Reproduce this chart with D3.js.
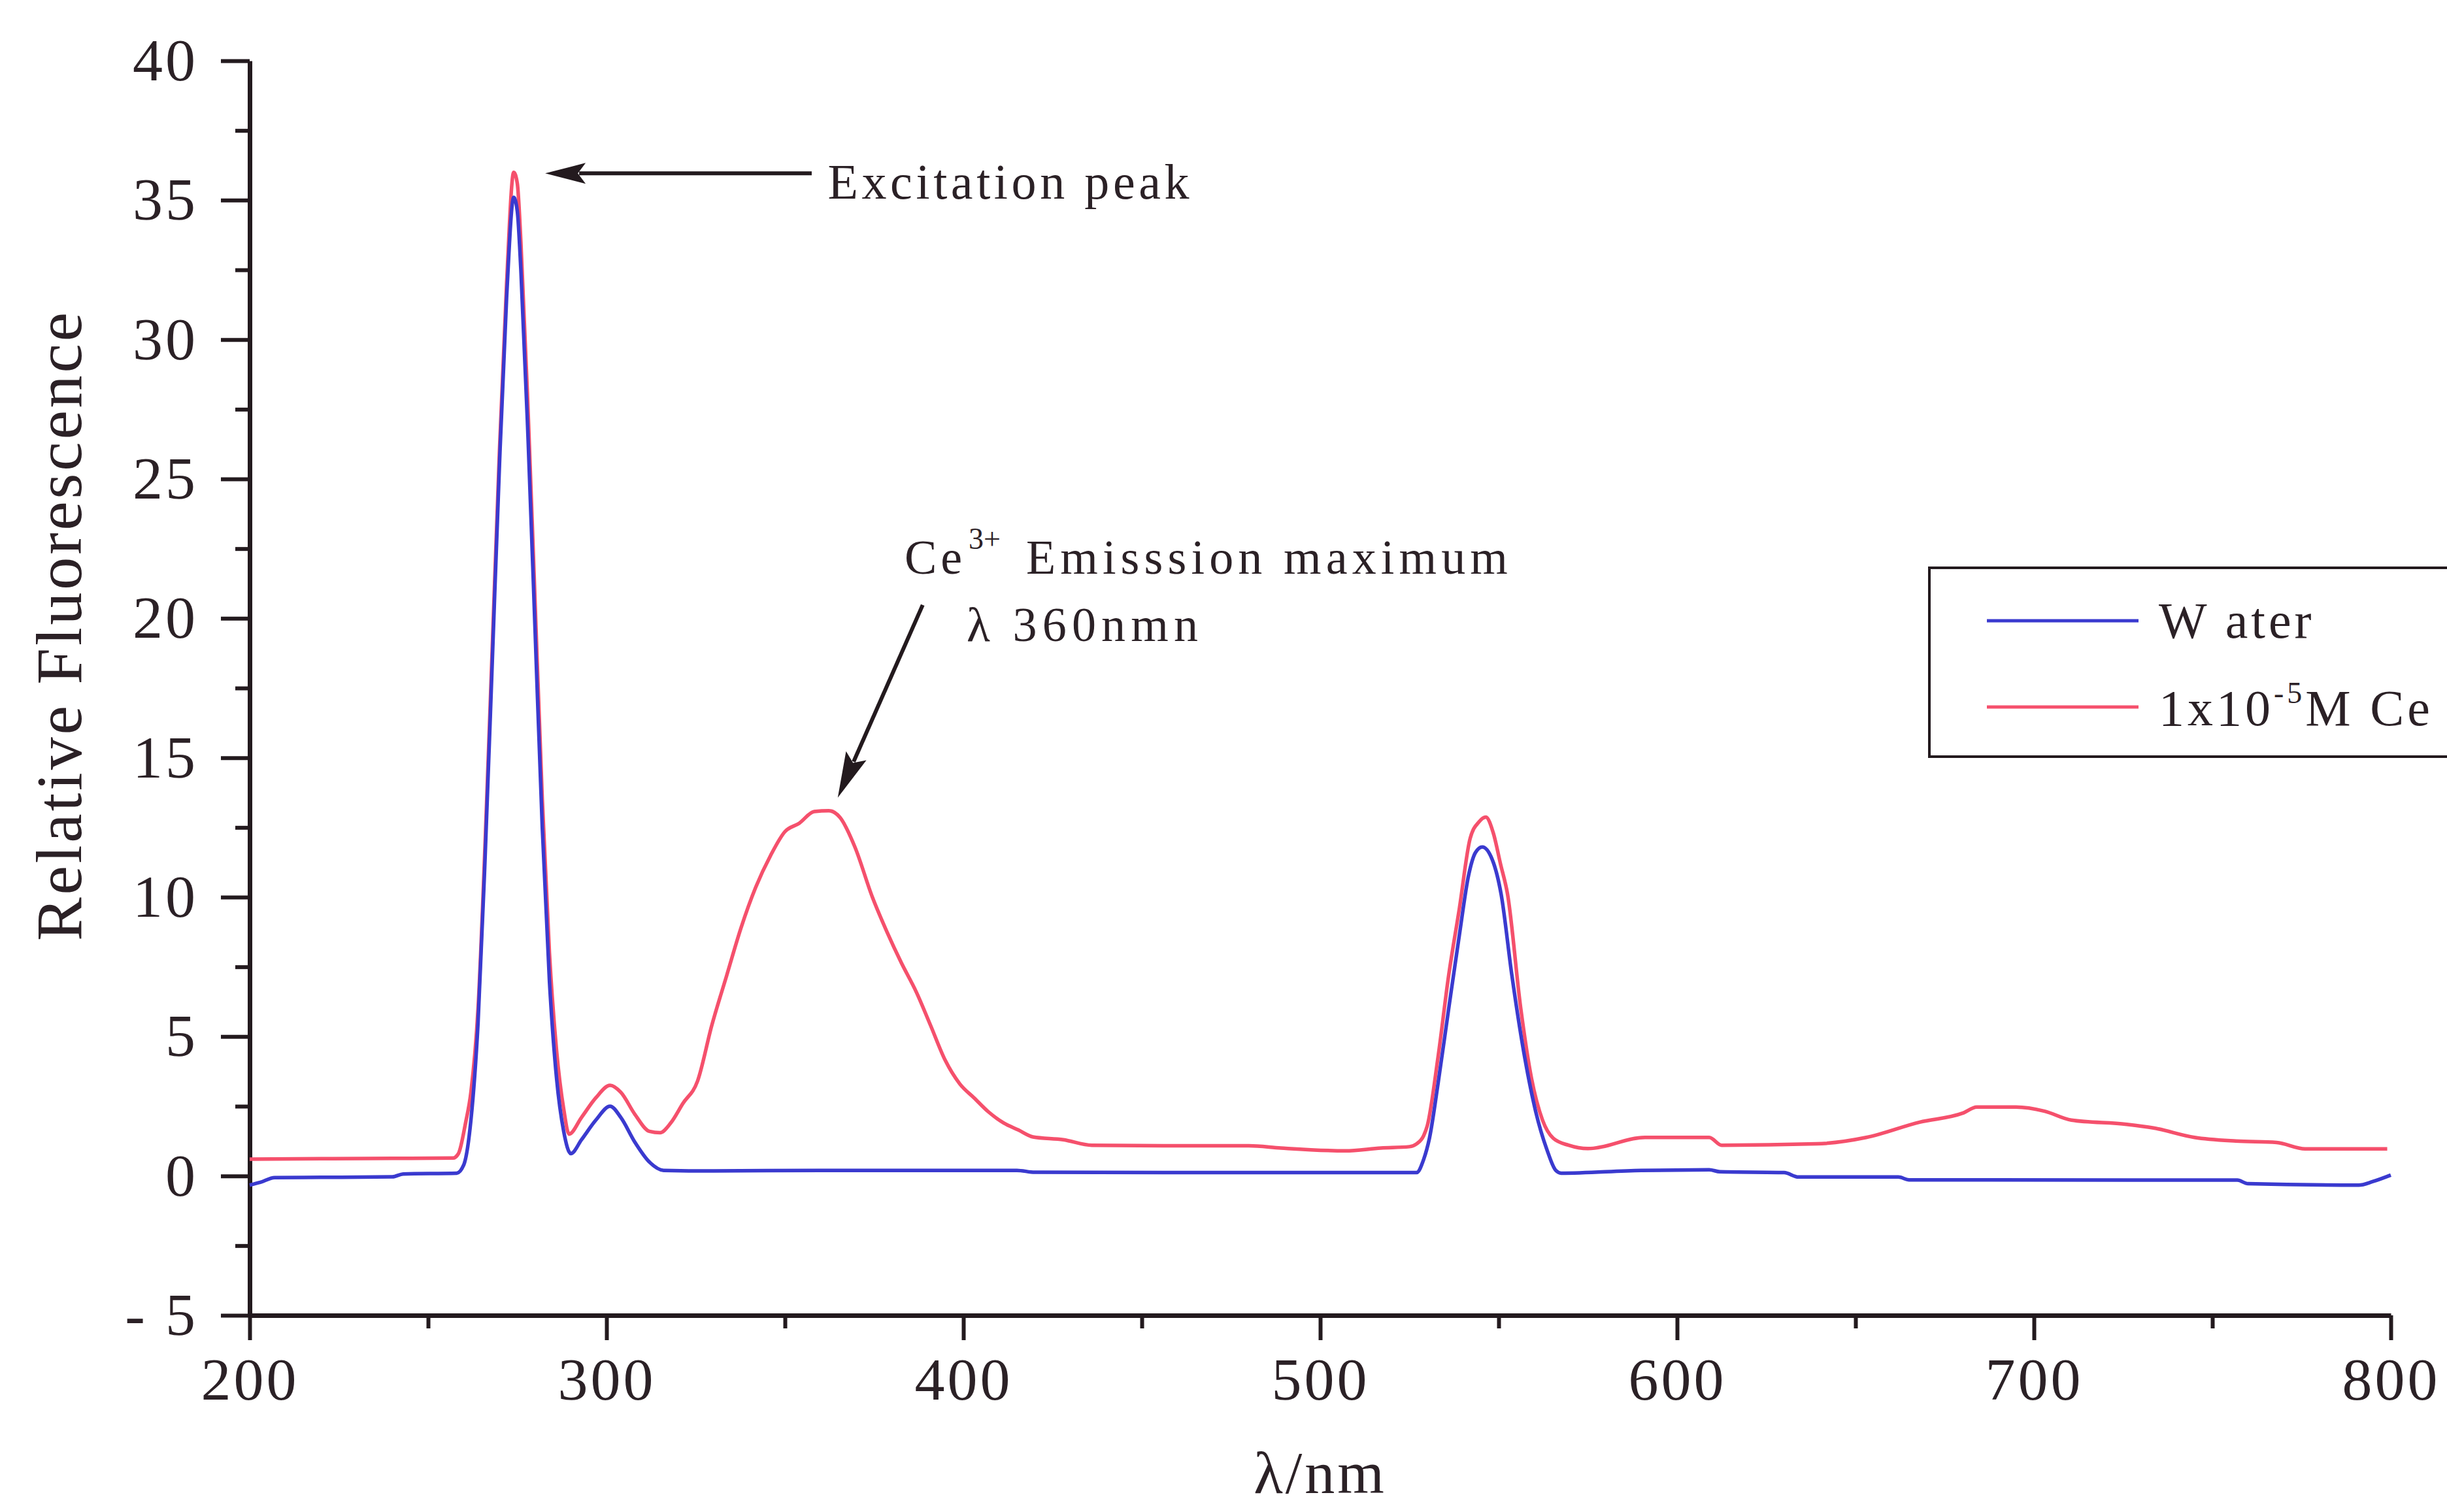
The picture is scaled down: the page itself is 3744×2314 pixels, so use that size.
<!DOCTYPE html>
<html>
<head>
<meta charset="utf-8">
<script src="https://cdn.jsdelivr.net/npm/d3@7"></script>
<style>
  body { margin: 0; background: #fff; }
  text { font-family: "Liberation Serif", "Times New Roman", serif; fill: #2b2126; }
</style>
</head>
<body>
<div id="chart"></div>
<script>
// Wavelength (nm) and relative fluorescence
var waterNm = [200, 203, 207, 220, 240, 243, 258, 260, 262, 264, 266, 268, 270, 272, 274, 275, 276, 278, 280, 282, 284, 286, 288, 290,
    293, 297, 301, 304, 308, 312, 316, 330, 360, 400, 415, 420, 480, 527, 529, 530.6, 533, 536, 539, 541.6, 543.5, 545.4,
    548.2, 550.7, 553.7, 557.3, 560.4, 563.5, 566, 567.5, 590, 609, 612, 630, 634, 662, 665, 757, 760, 791, 795, 800];
var waterVal = [-0.33, -0.23, -0.06, -0.05, -0.03, 0.07, 0.1, 0.4, 2.0, 5.5, 11.5, 18.5, 25.5, 31.5, 35.1, 34.6, 32.5, 26.5, 19.5, 12.5, 7.0, 3.5, 1.6, 0.8,
    1.3, 2.0, 2.5, 2.1, 1.2, 0.5, 0.2, 0.18, 0.2, 0.2, 0.2, 0.13, 0.12, 0.12, 0.6, 1.35, 3.3, 6.0, 8.65, 10.8, 11.6, 11.8,
    11.35, 10.1, 7.2, 4.25, 2.3, 0.95, 0.2, 0.1, 0.2, 0.22, 0.15, 0.12, -0.04, -0.04, -0.14, -0.15, -0.28, -0.33, -0.2, 0.03];

var ceNm = [200, 220, 240, 257, 258.5, 260.5, 262, 264, 266, 268, 270, 272, 274, 275, 276, 278, 280, 282, 284, 286, 288, 289.5,
    293, 297, 301, 304, 308, 312, 315, 318, 321.4, 325.5, 329.5, 333.7, 337.7, 341.8, 346, 350, 354, 358.2, 362.3, 365.5,
    369.6, 374.5, 378.6, 382.6, 386.8, 390.8, 394.9, 399, 403, 407, 411.3, 415.4, 419.5, 428, 436, 460, 480, 489, 507, 517,
    525, 527, 529, 530, 533, 536, 539, 542, 544.5, 546.4, 548.5, 550.5, 552.5, 556.2, 559.2, 562.3, 565.3, 569.6, 575,
    591, 609, 612.5, 639, 653, 668, 680, 684, 695, 703, 710.5, 726, 733.5, 745, 756.6, 768, 776, 799];
var ceVal = [0.6, 0.62, 0.63, 0.64, 0.8, 1.9, 3.0, 6.0, 12, 19, 26, 32, 36, 35.6, 33.5, 27.5, 20.5, 13.5, 8.0, 4.5, 2.4, 1.5,
    2.1, 2.8, 3.25, 3.0, 2.2, 1.6, 1.55, 1.9, 2.6, 3.4, 5.4, 7.2, 8.9, 10.35, 11.5, 12.35, 12.65, 13.07, 13.1, 12.85,
    11.8, 10.0, 8.75, 7.65, 6.6, 5.4, 4.15, 3.3, 2.8, 2.3, 1.9, 1.65, 1.4, 1.3, 1.1, 1.08, 1.08, 1.0, 0.9, 1.0,
    1.05, 1.15, 1.45, 1.8, 4.25, 7.2, 9.6, 12.1, 12.7, 12.87, 12.3, 11.2, 10.1, 6.0, 3.5, 2.0, 1.35, 1.1, 0.98,
    1.38, 1.38, 1.1, 1.15, 1.38, 1.93, 2.25, 2.47, 2.47, 2.32, 2.0, 1.85, 1.72, 1.38, 1.25, 1.2, 0.97, 0.97];

var xTicks = [200, 300, 400, 500, 600, 700, 800];
var xMinorTicks = [250, 350, 450, 550, 650, 750];
var yTicks = [-5, 0, 5, 10, 15, 20, 25, 30, 35, 40];
var yMinorTicks = [-2.5, 2.5, 7.5, 12.5, 17.5, 22.5, 27.5, 32.5, 37.5];

var seriesColors = {water: "#3a3acf", ce: "#f5506c"};
var inkColor = "#231a1e";

var margin = {top: 93, right: 86, bottom: 301, left: 382};
var width = 3744 - margin.left - margin.right,
    height = 2314 - margin.top - margin.bottom;

var svg = d3.select("#chart").append("svg")
    .attr("width", 3744)
    .attr("height", 2314)
    .append("g")
    .attr("transform", "translate(" + margin.left + "," + margin.top + ")");

var x = d3.scaleLinear().domain([200, 800]).range([0, width]);
var y = d3.scaleLinear().domain([-5, 40]).range([height, 0]);

// Axes: minor ticks first, then major ticks with labels
svg.append("g")
    .attr("transform", "translate(0," + height + ")")
    .call(d3.axisBottom(x).tickValues(xMinorTicks).tickSize(20).tickSizeOuter(0).tickFormat(""))
    .call(function(g) { g.select(".domain").remove(); });

svg.append("g")
    .call(d3.axisLeft(y).tickValues(yMinorTicks).tickSize(22).tickSizeOuter(0).tickFormat(""))
    .call(function(g) { g.select(".domain").remove(); });

var xAxis = svg.append("g")
    .attr("transform", "translate(0," + height + ")")
    .call(d3.axisBottom(x).tickValues(xTicks).tickSize(38).tickSizeOuter(0).tickPadding(26));

// plain hyphen for the negative label, as in the original
var yAxis = svg.append("g")
    .call(d3.axisLeft(y).tickValues(yTicks).tickSize(44).tickSizeOuter(0).tickPadding(35)
        .tickFormat(function(d) { return d < 0 ? "- " + (-d) : String(d); }));

svg.selectAll(".tick line").attr("stroke", inkColor).attr("stroke-width", 6);
svg.selectAll(".domain").attr("stroke", inkColor).attr("stroke-width", 7);
svg.selectAll(".tick text")
    .attr("fill", "#2b2126")
    .style("font-family", "Liberation Serif")
    .style("font-size", "92px")
    .style("letter-spacing", "4px");

// Axis titles
svg.append("text")
    .attr("transform", "translate(" + (124 - margin.left) + "," + (959 - margin.top) + ") rotate(-90)")
    .attr("text-anchor", "middle")
    .attr("textLength", 962)
    .attr("lengthAdjust", "spacing")
    .style("font-size", "100px")
    .text("Relative Fluorescence");

svg.append("text")
    .attr("x", x(500))
    .attr("y", height + 272)
    .attr("text-anchor", "middle")
    .style("font-size", "92px")
    .style("letter-spacing", "4px")
    .text("λ/nm");

// Spectra
var line = d3.line()
    .x(function(d) { return x(d[0]); })
    .y(function(d) { return y(d[1]); })
    .curve(d3.curveMonotoneX);

svg.append("path")
    .datum(d3.zip(ceNm, ceVal))
    .attr("fill", "none")
    .attr("stroke", seriesColors.ce)
    .attr("stroke-width", 5.5)
    .attr("stroke-linejoin", "round")
    .attr("d", line);

svg.append("path")
    .datum(d3.zip(waterNm, waterVal))
    .attr("fill", "none")
    .attr("stroke", seriesColors.water)
    .attr("stroke-width", 5.5)
    .attr("stroke-linejoin", "round")
    .attr("d", line);

// Arrow with filled head, tip at (x2, y2)
function drawArrow(x1, y1, x2, y2, headLen, headHalf) {
    var dx = x2 - x1, dy = y2 - y1;
    var len = Math.sqrt(dx * dx + dy * dy);
    var ux = dx / len, uy = dy / len;
    var bx = x2 - ux * headLen, by = y2 - uy * headLen;
    svg.append("line")
        .attr("x1", x1).attr("y1", y1)
        .attr("x2", bx + ux * 10).attr("y2", by + uy * 10)
        .attr("stroke", inkColor)
        .attr("stroke-width", 6);
    svg.append("path")
        .attr("d", "M" + x2 + "," + y2 +
            "L" + (bx - uy * headHalf) + "," + (by + ux * headHalf) +
            "L" + (bx + ux * 12) + "," + (by + uy * 12) +
            "L" + (bx + uy * headHalf) + "," + (by - ux * headHalf) + "Z")
        .attr("fill", inkColor);
}

// Excitation peak annotation
drawArrow(x(357.5), y(35.96), x(282.8), y(35.96), 62, 16);
svg.append("text")
    .attr("x", x(362))
    .attr("y", y(35.96) + 39)
    .attr("textLength", 553)
    .attr("lengthAdjust", "spacing")
    .style("font-size", "76px")
    .text("Excitation peak");

// Ce3+ emission annotation
drawArrow(x(388.6), y(20.48), x(364.8), y(13.57), 70, 17);
var ceY = y(21.6);
svg.append("text")
    .attr("x", x(383.5)).attr("y", ceY)
    .style("font-size", "74px")
    .style("letter-spacing", "6px")
    .text("Ce");
svg.append("text")
    .attr("x", x(383.5) + 98).attr("y", ceY - 38)
    .style("font-size", "46px")
    .text("3+");
svg.append("text")
    .attr("x", x(383.5) + 186).attr("y", ceY)
    .attr("textLength", 737)
    .attr("lengthAdjust", "spacing")
    .style("font-size", "74px")
    .text("Emisssion maximum");
svg.append("text")
    .attr("x", x(400.9)).attr("y", y(19.19))
    .attr("textLength", 354)
    .attr("lengthAdjust", "spacing")
    .style("font-size", "74px")
    .text("λ 360nmn");

// Legend
var legend = svg.append("g")
    .attr("transform", "translate(" + (2952 - margin.left) + "," + (869 - margin.top) + ")");

legend.append("rect")
    .attr("x", 0).attr("y", 0)
    .attr("width", 1000).attr("height", 289)
    .attr("fill", "#fff")
    .attr("stroke", inkColor)
    .attr("stroke-width", 4);

var legendRows = [
    {key: "water", y: 81},
    {key: "ce", y: 213}
];

legend.selectAll("line.key")
    .data(legendRows)
    .enter().append("line")
    .attr("class", "key")
    .attr("x1", 88).attr("x2", 320)
    .attr("y1", function(d) { return d.y; })
    .attr("y2", function(d) { return d.y; })
    .attr("stroke", function(d) { return seriesColors[d.key]; })
    .attr("stroke-width", 5);

legend.append("text")
    .attr("x", 351).attr("y", 107)
    .style("font-size", "78px")
    .style("letter-spacing", "5px")
    .text("W ater");

var ceLabel = legend.append("text")
    .attr("x", 351).attr("y", 241)
    .style("font-size", "78px")
    .style("letter-spacing", "5px");
ceLabel.append("tspan").text("1x10");
ceLabel.append("tspan").attr("dy", -34).style("font-size", "46px").text("-5");
ceLabel.append("tspan").attr("dy", 34).text("M Ce");
</script>
</body>
</html>
